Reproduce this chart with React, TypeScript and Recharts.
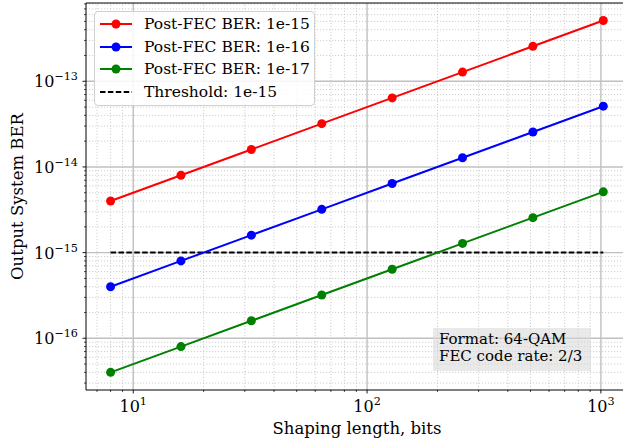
import { LineChart, Line, XAxis, YAxis, ReferenceLine } from "recharts";

// shaping length (bits) on x, output BER per post-FEC target
const shapingLength = [8, 16, 32, 64, 128, 256, 512, 1024];
const berTarget15 = [4e-15, 8e-15, 1.6e-14, 3.2e-14, 6.4e-14, 1.28e-13, 2.56e-13, 5.12e-13];
const berTarget16 = [4e-16, 8e-16, 1.6e-15, 3.2e-15, 6.4e-15, 1.28e-14, 2.56e-14, 5.12e-14];
const berTarget17 = [4e-17, 8e-17, 1.6e-16, 3.2e-16, 6.4e-16, 1.28e-15, 2.56e-15, 5.12e-15];
const thresholdValue = 1e-15;

const seriesNames = [
    "Post-FEC BER: 1e-15",
    "Post-FEC BER: 1e-16",
    "Post-FEC BER: 1e-17",
];
const thresholdName = "Threshold: 1e-15";
const seriesColors = ["#ff0000", "#0000ff", "#008000"];

const xMajorTicks = [10, 100, 1000];
const yMajorTicks = [1e-16, 1e-15, 1e-14, 1e-13];
const xDomain = [6.28, 1306];
const yDomain = [2.49e-17, 8.2e-13];

const minorTicks = (decades: number[], lo: number, hi: number) => {
    const out: number[] = [];
    decades.forEach((d) => {
        for (let k = 2; k <= 9; k++) {
            const v = parseFloat((k * d).toPrecision(3));
            if (v > lo && v < hi) out.push(v);
        }
    });
    return out;
};

const xMinorTicks = minorTicks([1, 10, 100, 1000], xDomain[0], xDomain[1]);
const yMinorTicks = minorTicks([1e-17, 1e-16, 1e-15, 1e-14, 1e-13], yDomain[0], yDomain[1]);

const data = shapingLength.map((x, i) => ({
    x,
    s15: berTarget15[i],
    s16: berTarget16[i],
    s17: berTarget17[i],
    threshold: thresholdValue,
}));

const FONT = "'DejaVu Serif', serif";
const TICK_FS = 16;
const SUP_FS = 11.2;
const LABEL_FS = 16.5;
const LEGEND_FS = 15.5;

const XTick = (props: any) => {
    const { x, y, payload } = props;
    const v = payload.value;
    const major = xMajorTicks.includes(v);
    const exp = Math.round(Math.log10(v));
    return (
        <g>
            <line x1={x} x2={x} y1={y} y2={y + (major ? 3.5 : 2)} stroke="#000" strokeWidth={major ? 0.9 : 0.7} />
            {major && (
                <text x={x} y={y + 21.5} textAnchor="middle" fontSize={TICK_FS} fontFamily={FONT} fill="#000">
                    10<tspan dy={-7} fontSize={SUP_FS}>{exp}</tspan>
                </text>
            )}
        </g>
    );
};

const YTick = (props: any) => {
    const { x, y, payload } = props;
    const v = payload.value;
    const major = yMajorTicks.some((t) => Math.abs(t - v) / t < 1e-6);
    const exp = Math.round(Math.log10(v));
    return (
        <g>
            <line x1={x} x2={x - (major ? 3.5 : 2)} y1={y} y2={y} stroke="#000" strokeWidth={major ? 0.9 : 0.7} />
            {major && (
                <text x={x - 8} y={y + 6} textAnchor="end" fontSize={TICK_FS} fontFamily={FONT} fill="#000">
                    10<tspan dy={-7} fontSize={SUP_FS}>{"\u2212" + Math.abs(exp)}</tspan>
                </text>
            )}
        </g>
    );
};

export default function App() {
    return (
        <div style={{ position: "absolute", left: 0, top: 0, width: 623, height: 443, overflow: "hidden", background: "#fff" }}>
            <LineChart width={640} height={443} data={data} margin={{ top: 3, right: 12, left: 0, bottom: 0 }}>
                <XAxis
                    dataKey="x"
                    type="number"
                    scale="log"
                    domain={xDomain}
                    allowDataOverflow
                    ticks={[...xMajorTicks, ...xMinorTicks]}
                    interval={0}
                    tick={<XTick />}
                    tickLine={false}
                    tickSize={0}
                    tickMargin={0}
                    height={53}
                    axisLine={{ stroke: "#000", strokeWidth: 1 }}
                    label={{
                        content: (p: any) => (
                            <text
                                x={p.viewBox.x + p.viewBox.width / 2}
                                y={p.viewBox.y + 44}
                                textAnchor="middle"
                                fontSize={LABEL_FS}
                                fontFamily={FONT}
                                fill="#000"
                            >
                                Shaping length, bits
                            </text>
                        ),
                    }}
                />
                <YAxis
                    type="number"
                    scale="log"
                    domain={yDomain}
                    allowDataOverflow
                    ticks={[...yMajorTicks, ...yMinorTicks]}
                    interval={0}
                    tick={<YTick />}
                    tickLine={false}
                    tickSize={0}
                    tickMargin={0}
                    width={86}
                    axisLine={{ stroke: "#000", strokeWidth: 1 }}
                    label={{
                        content: (p: any) => {
                            const cx = p.viewBox.x + 17;
                            const cy = p.viewBox.y + p.viewBox.height / 2;
                            return (
                                <text
                                    x={cx}
                                    y={cy}
                                    transform={`rotate(-90 ${cx} ${cy})`}
                                    textAnchor="middle"
                                    dominantBaseline="central"
                                    fontSize={LABEL_FS}
                                    fontFamily={FONT}
                                    fill="#000"
                                >
                                    Output System BER
                                </text>
                            );
                        },
                    }}
                />
                {xMinorTicks.map((v) => (
                    <ReferenceLine key={"xm" + v} x={v} stroke="#c4c4c4" strokeWidth={0.8} strokeDasharray="1.2 1.8" />
                ))}
                {yMinorTicks.map((v) => (
                    <ReferenceLine key={"ym" + v} y={v} stroke="#c4c4c4" strokeWidth={0.8} strokeDasharray="1.2 1.8" />
                ))}
                {xMajorTicks.map((v) => (
                    <ReferenceLine key={"xM" + v} x={v} stroke="#c0c0c0" strokeWidth={1.4} />
                ))}
                {yMajorTicks.map((v) => (
                    <ReferenceLine key={"yM" + v} y={v} stroke="#c0c0c0" strokeWidth={1.4} />
                ))}
                <ReferenceLine y={yDomain[1]} stroke="#000" strokeWidth={1.2} />
                <Line
                    dataKey="threshold"
                    stroke="#000"
                    strokeWidth={2}
                    strokeDasharray="5.5 2.4"
                    dot={false}
                    isAnimationActive={false}
                />
                {["s15", "s16", "s17"].map((k, i) => (
                    <Line
                        key={k}
                        dataKey={k}
                        stroke={seriesColors[i]}
                        strokeWidth={2}
                        dot={{ r: 4.5, fill: seriesColors[i], stroke: seriesColors[i], strokeWidth: 0 }}
                        isAnimationActive={false}
                    />
                ))}
            </LineChart>

            {/* legend box */}
            <div
                style={{
                    position: "absolute",
                    left: 94,
                    top: 11,
                    width: 219,
                    height: 93,
                    border: "1px solid #d0d0d0",
                    borderRadius: 4,
                    background: "rgba(255,255,255,0.85)",
                    fontFamily: FONT,
                    fontSize: LEGEND_FS,
                }}
            >
                {[...seriesNames, thresholdName].map((name, i) => (
                    <div
                        key={name}
                        style={{ position: "absolute", left: 5, top: 1 + i * 22.5, height: 22, display: "flex", alignItems: "center", whiteSpace: "nowrap" }}
                    >
                        <svg width={34} height={12} style={{ marginRight: 10 }}>
                            {i < 3 ? (
                                <>
                                    <line x1={0} x2={32} y1={6} y2={6} stroke={seriesColors[i]} strokeWidth={2} />
                                    <circle cx={16} cy={6} r={4.5} fill={seriesColors[i]} />
                                </>
                            ) : (
                                <line x1={0} x2={32} y1={6} y2={6} stroke="#000" strokeWidth={2} strokeDasharray="5.5 2.4" />
                            )}
                        </svg>
                        <span>{name}</span>
                    </div>
                ))}
            </div>

            {/* annotation */}
            <div
                style={{
                    position: "absolute",
                    left: 433,
                    top: 328,
                    width: 158,
                    height: 43,
                    background: "rgba(215,215,215,0.55)",
                    fontFamily: FONT,
                    fontSize: 15,
                    lineHeight: "17.3px",
                    padding: "3px 0 0 6px",
                    boxSizing: "border-box",
                    color: "#000",
                    whiteSpace: "nowrap",
                }}
            >
                <div>Format: 64-QAM</div>
                <div>FEC code rate: 2/3</div>
            </div>
        </div>
    );
}
